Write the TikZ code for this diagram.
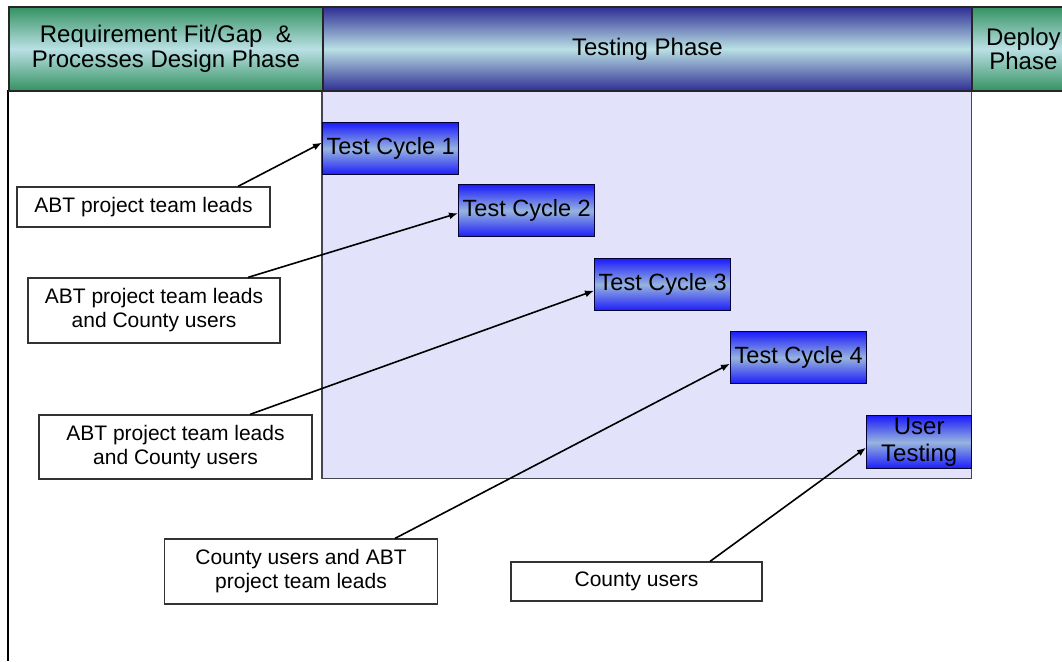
\documentclass[tikz,border=0pt]{standalone}
\usepackage{fontspec}
\setmainfont{Liberation Sans}
\usetikzlibrary{arrows.meta}
\definecolor{hgreen}{RGB}{52,146,98}
\definecolor{hlight}{RGB}{186,224,228}
\definecolor{hblue}{RGB}{46,46,148}
\definecolor{cblue}{RGB}{28,28,250}
\definecolor{clight}{RGB}{150,180,222}
\definecolor{areacol}{RGB}{226,226,250}
\definecolor{edgegray}{RGB}{70,70,80}
\begin{document}
\begin{tikzpicture}[x=1pt,y=-1pt,
  headbox/.style={draw=black!85, line width=1.8pt, inner sep=0pt, align=center,
    font=\fontsize{24}{24.5}\selectfont, minimum height=84pt, anchor=north west},
  greenhead/.style={headbox, top color=hgreen, bottom color=hgreen, middle color=hlight},
  bluehead/.style={headbox, top color=hblue, bottom color=hblue, middle color=hlight},
  cyclebox/.style={draw=black!80!blue, line width=1.4pt, inner sep=1pt, align=center,
    top color=cblue, bottom color=cblue, middle color=clight,
    font=\fontsize{23.5}{27}\selectfont, minimum width=136pt, minimum height=52pt, anchor=north west},
  labbox/.style={draw=black!80, line width=1.2pt, fill=white, align=center, inner sep=1pt,
    font=\fontsize{21}{24}\selectfont},
  areabox/.style={fill=areacol, anchor=north west, inner sep=0pt},
  arr/.style={line width=1.6pt, -{Latex[length=9pt,width=7pt]}}
]
\useasboundingbox (0,0) rectangle (1062,661);
\clip (0,0) rectangle (1062,661);

% testing area
\node[areabox, minimum width=649pt, minimum height=388pt] (ta) at (322,90) {};
\draw[edgegray, line width=1.8pt] (ta.north west) -- (ta.south west) -- (ta.south east) -- (ta.north east);

% left frame line
\draw[line width=1.5pt] (8,90) -- (8,661);

% header
\node[greenhead, minimum width=314pt] (h1) at (8,6) {Requirement Fit/Gap\ \ \&\\Processes Design Phase};
\node[bluehead, minimum width=649pt] (h2) at (322,6) {Testing Phase};
\node[greenhead, minimum width=103pt] (h3) at (971,6) {Deploy\\Phase};

% cycles
\node[cyclebox] (c1) at (322,122) {Test Cycle 1};
\node[cyclebox] (c2) at (458,184) {Test Cycle 2};
\node[cyclebox] (c3) at (594,258) {Test Cycle 3};
\node[cyclebox] (c4) at (730,331) {Test Cycle 4};
\node[cyclebox, minimum width=105pt, minimum height=53pt, font=\fontsize{24}{27}\selectfont] (ut) at (866,415) {User\\Testing};

% labels
\node[labbox, minimum width=253pt, minimum height=40pt] (l1) at (143.5,207) {ABT project team leads};
\node[labbox, minimum width=252pt, minimum height=65pt] (l2) at (154,310.5) {ABT project team leads\\and County users};
\node[labbox, minimum width=273pt, minimum height=64pt] (l3) at (175.5,447) {ABT project team leads\\and County users};
\node[labbox, minimum width=273pt, minimum height=65pt] (l4) at (301,571.5) {County users and ABT\\project team leads};
\node[labbox, minimum width=251pt, minimum height=39pt] (l5) at (636.5,581.5) {County users};

% connectors
\draw[arr] ([xshift=94.5pt]l1.north) -- ([yshift=6pt]c1.west);
\draw[arr] ([xshift=94pt]l2.north) -- ([yshift=-2.5pt]c2.west);
\draw[arr] ([xshift=74.5pt]l3.north) -- ([yshift=-6pt]c3.west);
\draw[arr] ([xshift=94pt]l4.north) -- ([yshift=-6pt]c4.west);
\draw[arr] ([xshift=73.5pt]l5.north) -- ([yshift=-5.5pt]ut.west);
\end{tikzpicture}
\end{document}
